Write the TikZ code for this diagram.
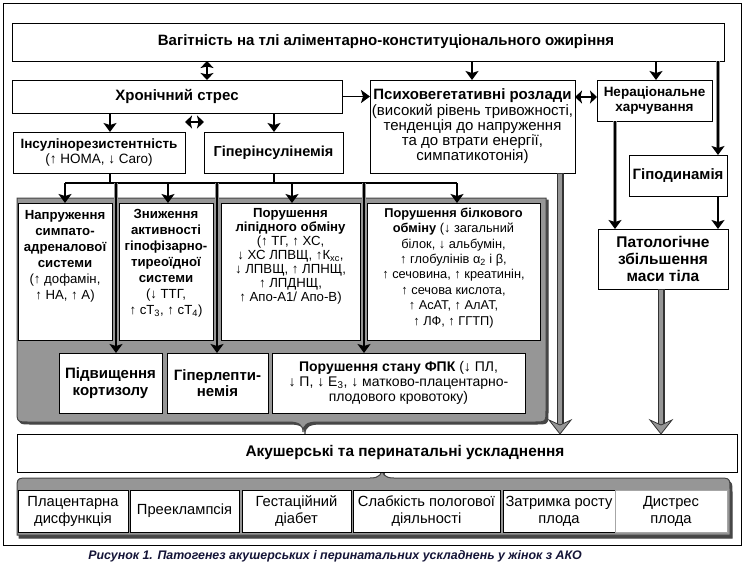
\documentclass[tikz,border=0pt]{standalone}
\usepackage{fontspec}
\setmainfont{Liberation Sans}
\usetikzlibrary{arrows.meta}
\definecolor{pgray}{RGB}{150,150,150}
\definecolor{pshadow}{RGB}{70,70,70}
\definecolor{capc}{RGB}{20,20,55}
\newcommand\BXc[3]{\begin{minipage}[c][#2pt][c]{#1pt}\centering #3\end{minipage}}
\newcommand\BXt[4]{\begin{minipage}[c][#2pt][t]{#1pt}\centering\vspace*{#3pt}#4\end{minipage}}
\newcommand\FA{\fontsize{15}{15.5}\selectfont}
\newcommand\FP{\fontsize{15}{15.2}\selectfont}
\newcommand\FB{\fontsize{13.2}{16}\selectfont}
\newcommand\FG{\fontsize{13.2}{14.1}\selectfont}
\newcommand\FD{\fontsize{12.8}{15.4}\selectfont}
\newcommand\FE{\fontsize{13.5}{15}\selectfont}
\newcommand\FK{\fontsize{15}{16.5}\selectfont}
\newcommand\FF{\fontsize{14}{15}\selectfont}
\newcommand\FC{\fontsize{14.7}{17}\selectfont}
\tikzset{
  box/.style={draw=black, line width=0.9pt, fill=white, anchor=north west, inner sep=0pt, outer sep=0pt},
  arr/.style={line width=1.7pt, -{Stealth[length=9pt,width=13pt,inset=2pt]}},
  darr/.style={line width=1.7pt, {Stealth[length=7pt,width=13pt,inset=1.5pt]}-{Stealth[length=7pt,width=13pt,inset=1.5pt]}},
  ln/.style={line width=1.7pt},
  gunder/.style={line width=4.5pt, draw=pgray},
  panel/.style={fill=pgray, draw=pshadow, line width=1pt},
  shadowp/.style={fill=pshadow, draw=pshadow, line width=1pt},
  bigshaft/.style={line width=7pt, draw=black!80},
  biginner/.style={line width=4.5pt, draw=pgray},
  bighead/.style={fill=pgray, draw=black!80, line width=0.8pt},
}
\begin{document}
\begin{tikzpicture}[x=1pt,y=-1pt]
\useasboundingbox (0,0) rectangle (747,566);
\fill[white] (0,0) rectangle (747,566);
\draw[line width=1pt] (3,3) rectangle (741,545);

% x reference coordinates
\coordinate (xa) at (207,0);
\coordinate (xb) at (472,0);
\coordinate (xc) at (656,0);
\coordinate (xd) at (718,0);
\coordinate (xe) at (615,0);
\coordinate (xf) at (110,0);
\coordinate (xg) at (274,0);
\coordinate (xh) at (65,0);
\coordinate (xi) at (168,0);
\coordinate (xj) at (292,0);
\coordinate (xk) at (457,0);
\coordinate (xl) at (116,0);
\coordinate (xm) at (217,0);
\coordinate (xn) at (364,0);
\coordinate (xo) at (560,0);
\coordinate (xp) at (661,0);
\coordinate (yq) at (0,97);
\coordinate (busL) at (65,183);
\coordinate (busR) at (457,183);

% panels
\draw[shadowp,xshift=2pt,yshift=-2pt] (17,198) -- (546,198) -- (546,410) .. controls (546,422) .. (534,422) -- (318,422) .. controls (307,422) and (303,425) .. (303,432) .. controls (303,425) and (299,422) .. (288,422) -- (29,422) .. controls (17,422) .. (17,410) -- cycle;
\draw[panel] (17,198) -- (546,198) -- (546,410) .. controls (546,422) .. (534,422) -- (318,422) .. controls (307,422) and (303,425) .. (303,432) .. controls (303,425) and (299,422) .. (288,422) -- (29,422) .. controls (17,422) .. (17,410) -- cycle;
\draw[shadowp,xshift=2pt,yshift=-3pt] (17,535) -- (17,490) .. controls (17,478) .. (29,478) -- (370,478) .. controls (380,478) and (382,474) .. (382,467) .. controls (382,474) and (384,478) .. (394,478) -- (718,478) .. controls (730,478) .. (730,490) -- (730,535) -- cycle;
\draw[panel] (17,535) -- (17,490) .. controls (17,478) .. (29,478) -- (370,478) .. controls (380,478) and (382,474) .. (382,467) .. controls (382,474) and (384,478) .. (394,478) -- (718,478) .. controls (730,478) .. (730,490) -- (730,535) -- cycle;

% nodes
\node[box] (top) at (12,23) {\BXc{712}{38}{\FA\bfseries\hspace*{36pt}Вагітність на тлі аліментарно-конституціонального ожиріння}};
\node[box] (stress) at (12,80) {\BXc{330}{33}{\FA\bfseries Хронічний стрес}};
\node[box] (psycho) at (370,80) {\BXc{205}{93}{\FP{\bfseries Психовегетативні розлади}\\ (високий рівень тривожності,\\ тенденція до напруження\\ та до втрати енергії,\\ симпатикотонія)}};
\node[box] (nerac) at (597,80) {\BXc{115}{41}{\FE\bfseries Нераціональне\\ харчування}};
\node[box] (hypo) at (629,155) {\BXc{98}{41}{\FA\bfseries Гіподинамія}};
\node[box] (patol) at (598,229) {\BXc{130}{60}{\fontsize{15.5}{17}\selectfont\bfseries Патологічне\\ збільшення\\ маси тіла}};
\node[box] (insul) at (13,132) {\BXc{172}{41}{\FE{\bfseries Інсулінорезистентність}\\ (↑ HOMA, ↓ Caro)}};
\node[box] (hyper) at (204,132) {\BXc{139}{41}{\fontsize{14.5}{15}\selectfont\bfseries Гіперінсулінемія}};

\node[box] (n1) at (18,203) {\BXt{94}{137}{7}{\FB{\bfseries Напруження\\ симпато-\\ адреналової\\ системи}\\ (↑ дофамін,\\ ↑ НА, ↑ А)}};
\node[box] (n2) at (119,203) {\BXt{94}{137}{6}{\FB{\bfseries Зниження\\ активності\\ гіпофізарно-\\ тиреоїдної\\ системи}\\ (↓ ТТГ,\\ ↑ сТ\textsubscript{3}, ↑ сТ\textsubscript{4})}};
\node[box] (n3) at (221,203) {\BXt{139}{137}{5}{\FG{\bfseries Порушення\\ ліпідного обміну}\\ (↑ ТГ, ↑ ХС,\\ ↓ ХС ЛПВЩ, ↑К\textsubscript{хс},\\ ↓ ЛПВЩ, ↑ ЛПНЩ,\\ ↑ ЛПДНЩ,\\ ↑ Апо-А1/ Апо-В)}};
\node[box] (n4) at (367,203) {\BXt{173}{137}{5}{\FD{\bfseries Порушення білкового\\ обміну} (↓ загальний\\ білок, ↓ альбумін,\\ ↑ глобулінів α\textsubscript{2} і β,\\ ↑ сечовина, ↑ креатинін,\\ ↑ сечова кислота,\\ ↑ АсАТ, ↑ АлАТ,\\ ↑ ЛФ, ↑ ГГТП)}};

\node[box] (k1) at (59,353) {\BXc{103}{60}{\FK\bfseries Підвищення\\ кортизолу}};
\node[box] (k2) at (167,353) {\BXc{101}{60}{\FK\bfseries Гіперлепти-\\ немія}};
\node[box] (k3) at (272,353) {\BXc{253}{60}{\FF{\bfseries Порушення стану ФПК} (↓ ПЛ,\\ ↓ П, ↓ Е\textsubscript{3}, ↓ матково-плацентарно-\\ плодового кровотоку)}};

\node[box] (akush) at (17,434) {\BXc{720}{38}{\fontsize{15.4}{16}\selectfont\bfseries\hspace*{56pt}Акушерські та перинатальні ускладнення}};

\node[box] (b1) at (18,490) {\BXc{110}{42}{\FC Плацентарна\\ дисфункція}};
\node[box] (b2) at (130,490) {\BXc{109}{42}{\FC Прееклампсія}};
\node[box] (b3) at (242,490) {\BXc{109}{42}{\FC Гестаційний\\ діабет}};
\node[box] (b4) at (353,490) {\BXc{147}{42}{\FC Слабкість пологової\\ діяльності}};
\node[box] (b5) at (503,490) {\BXc{112}{42}{\FC Затримка росту\\ плода}};
\node[box, draw=black!35] (b6) at (615,490) {\BXc{112}{42}{\FC Дистрес\\ плода}};

\node[font=\fontsize{12.4}{14}\selectfont\bfseries\itshape, text=capc] (cap) at (335,556) {Рисунок 1. Патогенез акушерських і перинатальних ускладнень у жінок з АКО};

% connectors top level
\draw[darr] (top.south -| xa) -- (stress.north -| xa);
\draw[arr] (top.south -| xb) -- (psycho.north -| xb);
\draw[arr] (top.south -| xc) -- (nerac.north -| xc);
\draw[gunder, shorten >=7pt] (top.south -| xd) -- (hypo.north -| xd);
\draw[arr] (top.south -| xd) -- (hypo.north -| xd);
\draw[gunder, shorten >=7pt] (nerac.south -| xe) -- (patol.north -| xe);
\draw[arr] (nerac.south -| xe) -- (patol.north -| xe);
\draw[arr] (hypo.south -| xd) -- (patol.north -| xd);
\draw[arr] (stress.east) -- (stress.east -| psycho.west);
\draw[darr] (psycho.east |- yq) -- (nerac.west |- yq);
\draw[arr] (stress.south -| xf) -- (insul.north -| xf);
\draw[arr] (stress.south -| xg) -- (hyper.north -| xg);
\draw[darr] ([yshift=10pt]insul.north east) -- ([yshift=10pt]hyper.north west);

% bus
\draw[ln] (insul.south -| xf) -- (busL -| xf);
\draw[ln] (hyper.south -| xg) -- (busL -| xg);
\draw[ln] (busL) -- (busR);
\draw[arr] (busL -| xh) -- (n1.north -| xh);
\draw[arr] (busL -| xi) -- (n2.north -| xi);
\draw[arr] (busL -| xj) -- (n3.north -| xj);
\draw[arr] (busR) -- (n4.north -| xk);
\draw[gunder, shorten >=7pt] (busL -| xl) -- (k1.north -| xl);
\draw[arr] (busL -| xl) -- (k1.north -| xl);
\draw[gunder, shorten >=7pt] (busL -| xm) -- (k2.north -| xm);
\draw[arr] (busL -| xm) -- (k2.north -| xm);
\draw[gunder, shorten >=7pt] (busL -| xn) -- (k3.north -| xn);
\draw[arr] (busL -| xn) -- (k3.north -| xn);

% big gray arrows
\draw[bigshaft, shorten >=8pt] (psycho.south -| xo) -- (akush.north -| xo);
\draw[biginner, shorten >=8pt, shorten <=0.5pt] (psycho.south -| xo) -- (akush.north -| xo);
\draw[bighead] (akush.north -| xo) -- ++(-11,-14) -- ++(11,5) -- ++(11,-5) -- cycle;
\draw[bigshaft, shorten >=8pt] (patol.south -| xp) -- (akush.north -| xp);
\draw[biginner, shorten >=8pt, shorten <=0.5pt] (patol.south -| xp) -- (akush.north -| xp);
\draw[bighead] (akush.north -| xp) -- ++(-11,-14) -- ++(11,5) -- ++(11,-5) -- cycle;
\end{tikzpicture}
\end{document}
